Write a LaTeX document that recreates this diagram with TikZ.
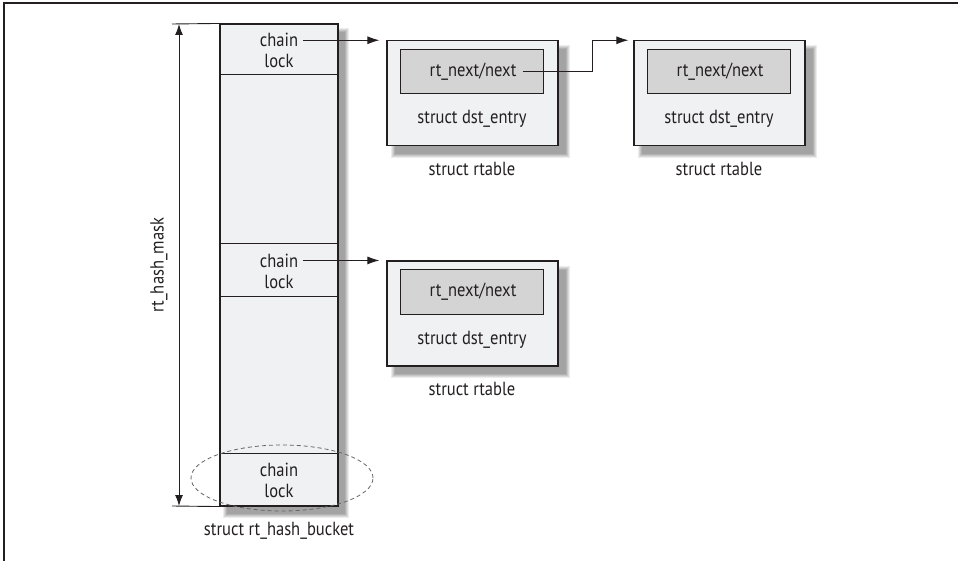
\documentclass[tikz,border=0pt]{standalone}
\usepackage{fontspec}
\setmainfont{PT Sans}[FakeStretch=0.87]
\usetikzlibrary{arrows.meta,shapes.geometric}
\definecolor{boxbg}{HTML}{F0F1F3}
\definecolor{innerbg}{HTML}{D4D4D4}
\definecolor{ink}{HTML}{231F20}
\newcommand\softshade[4]{%
  \fill[gray!15] (#1-4,#2-4) rectangle (#3+4,#4+4);
  \fill[gray!30] (#1-3,#2-3) rectangle (#3+3,#4+3);
  \fill[gray!45] (#1-2,#2-2) rectangle (#3+2,#4+2);
  \fill[gray!60] (#1-1,#2-1) rectangle (#3+1,#4+1);
  \fill[gray!72] (#1,#2) rectangle (#3,#4);}
\tikzset{
  lbl/.style={font=\fontsize{19}{21}\selectfont, text=ink, inner sep=1pt},
  outerbox/.style={draw=ink, line width=1.1pt, fill=boxbg, minimum width=171pt, minimum height=105pt, inner sep=0pt},
  innerbox/.style={draw=ink, line width=1pt, fill=innerbg, minimum width=143pt, minimum height=44pt, inner sep=0pt},
  bucketbox/.style={draw=ink, line width=1.1pt, fill=boxbg, minimum width=118pt, minimum height=482pt, inner sep=0pt},
  arr/.style={draw=ink, line width=1pt, -{Latex[length=12pt,width=8pt]}},
  sep/.style={draw=ink, line width=0.9pt}
}
\begin{document}
\begin{tikzpicture}[x=1pt,y=-1pt]
\useasboundingbox (0,0) rectangle (958,561);
% page frame
\draw[ink, line width=1.5pt] (4,561) -- (4,3) -- (958,3);
% shadows
\softshade{227}{32}{345}{514}
\softshade{395}{49}{566}{154}
\softshade{642}{49}{813}{154}
\softshade{395}{270}{566}{374}
% bucket
\node[bucketbox] (bucket) at (279,265) {};
\draw[sep] (bucket.west |- 0,74) -- (bucket.east |- 0,74);
\draw[sep] (bucket.west |- 0,243) -- (bucket.east |- 0,243);
\draw[sep] (bucket.west |- 0,296) -- (bucket.east |- 0,296);
\draw[sep] (bucket.west |- 0,453) -- (bucket.east |- 0,453);
\node[lbl] (ch1) at (279,40) {chain};
\node[lbl] (lk1) at (279,61) {lock};
\node[lbl] (ch2) at (279,261) {chain};
\node[lbl] (lk2) at (279,282) {lock};
\node[lbl] (ch3) at (279,470) {chain};
\node[lbl] (lk3) at (279,491) {lock};
\node[lbl] (bname) at (279,531) {struct rt\_hash\_bucket};
% dashed ellipse
\node[ellipse, draw=gray!80!black, dash pattern=on 4pt off 3pt, line width=0.8pt, minimum width=182pt, minimum height=66pt] (sel) at (282,478) {};
% rt_hash_mask dimension
\draw[ink, line width=0.9pt] (172,24) -- (bucket.north west);
\draw[ink, line width=0.9pt] (172,506) -- (bucket.south west);
\coordinate (mtop) at (179,24);
\coordinate (mbot) at (179,506);
\draw[ink, line width=1pt, {Latex[length=11pt,width=8pt]}-{Latex[length=11pt,width=8pt]}] (mtop) -- (mbot);
\node[lbl, rotate=90] (mask) at (159,265) {rt\_hash\_mask};
% rtable 1
\node[outerbox] (b1) at (472.5,93.3) {};
\node[innerbox] (i1) at (472.3,72) {};
\node[lbl] (t1) at (473,72) {rt\_next/next};
\node[lbl] (d1) at (472,119) {struct dst\_entry};
\node[lbl] (r1) at (472,169) {struct rtable};
% rtable 2
\node[outerbox] (b2) at (719.5,93.3) {};
\node[innerbox] (i2) at (719.3,72) {};
\node[lbl] (t2) at (720,72) {rt\_next/next};
\node[lbl] (d2) at (719,119) {struct dst\_entry};
\node[lbl] (r2) at (719,169) {struct rtable};
% rtable 3
\node[outerbox] (b3) at (472.5,313.5) {};
\node[innerbox] (i3) at (472.3,292) {};
\node[lbl] (t3) at (473,292) {rt\_next/next};
\node[lbl] (d3) at (472,340) {struct dst\_entry};
\node[lbl] (r3) at (472,389) {struct rtable};
% connectors
\draw[arr, shorten >=7pt, shorten <=4pt] (ch1.east |- b1.north) -- (b1.north west);
\draw[arr, shorten >=7pt, shorten <=4pt] (ch2.east |- b3.north) -- (b3.north west);
\draw[arr, shorten >=5pt, shorten <=5pt] (t1.east) -- (592,72) |- (b2.north west);
\end{tikzpicture}
\end{document}
